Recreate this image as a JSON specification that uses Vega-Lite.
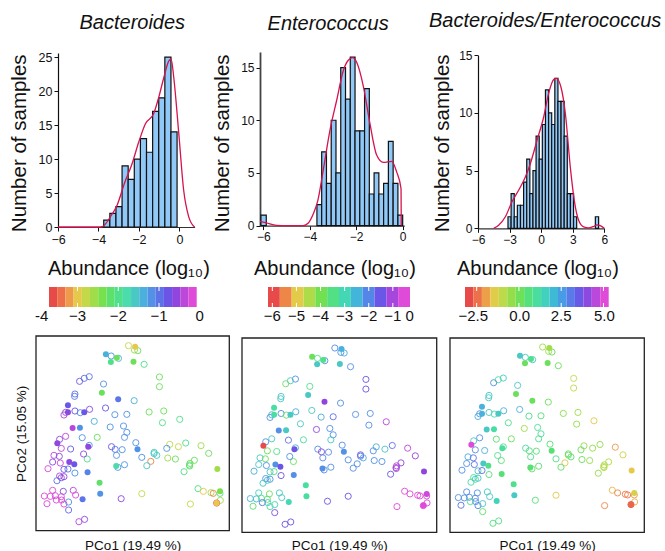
{"$schema":"https://vega.github.io/schema/vega-lite/v6.json","padding":{"left":0,"top":11,"right":0,"bottom":0},"background":"white","config":{"font":"Liberation Sans","view":{"stroke":null},"axis":{"grid":false,"labelFlush":false,"labelColor":"#111","titleColor":"#111","titleFontWeight":"normal","labelFont":"Liberation Sans","titleFont":"Liberation Sans"},"title":{"fontWeight":"normal","color":"#111"}},
"resolve":{"scale":{"color":"independent"}},
"datasets":{
"h1":[{"from":-3.74,"to":-3.438,"count":1},{"from":-3.438,"to":-3.136,"count":2},{"from":-3.136,"to":-2.834,"count":3},{"from":-2.834,"to":-2.532,"count":9},{"from":-2.532,"to":-2.23,"count":7},{"from":-2.23,"to":-1.928,"count":10},{"from":-1.928,"to":-1.626,"count":13},{"from":-1.626,"to":-1.324,"count":11},{"from":-1.324,"to":-1.022,"count":17},{"from":-1.022,"to":-0.72,"count":19},{"from":-0.72,"to":-0.418,"count":25},{"from":-0.418,"to":-0.116,"count":14}],
"c1":[{"x":-6,"y":0},{"x":-4,"y":0},{"x":-3.82,"y":0.05},{"x":-3.41,"y":1.5},{"x":-3.08,"y":3.2},{"x":-2.72,"y":6.4},{"x":-2.34,"y":9.3},{"x":-2.01,"y":12.5},{"x":-1.68,"y":15.2},{"x":-1.27,"y":16.7},{"x":-1.02,"y":19.1},{"x":-0.77,"y":22},{"x":-0.53,"y":24.4},{"x":-0.41,"y":24.7},{"x":-0.28,"y":22},{"x":-0.03,"y":13.7},{"x":0.21,"y":5.4},{"x":0.46,"y":1.5},{"x":0.75,"y":0}],
"h2":[{"from":-6.1,"to":-5.87,"count":1},{"from":-3.69,"to":-3.485,"count":2},{"from":-3.485,"to":-3.28,"count":7},{"from":-3.28,"to":-3.075,"count":4},{"from":-3.075,"to":-2.87,"count":10},{"from":-2.87,"to":-2.665,"count":5},{"from":-2.665,"to":-2.46,"count":15},{"from":-2.46,"to":-2.255,"count":12},{"from":-2.255,"to":-2.05,"count":16},{"from":-2.05,"to":-1.845,"count":9},{"from":-1.845,"to":-1.64,"count":9},{"from":-1.64,"to":-1.435,"count":13},{"from":-1.435,"to":-1.23,"count":3},{"from":-1.23,"to":-1.025,"count":5},{"from":-1.025,"to":-0.82,"count":3},{"from":-0.82,"to":-0.615,"count":4},{"from":-0.615,"to":-0.41,"count":8},{"from":-0.41,"to":-0.205,"count":4},{"from":-0.205,"to":0,"count":1}],
"c2":[{"x":-6.14,"y":0.4},{"x":-5.86,"y":0.25},{"x":-5.43,"y":0.02},{"x":-5,"y":0},{"x":-4.28,"y":0},{"x":-4.06,"y":0.25},{"x":-3.85,"y":1.1},{"x":-3.65,"y":2.4},{"x":-3.42,"y":5.25},{"x":-3.13,"y":9.05},{"x":-2.84,"y":11.9},{"x":-2.55,"y":14.75},{"x":-2.34,"y":15.7},{"x":-2.15,"y":15.95},{"x":-1.98,"y":15.5},{"x":-1.69,"y":13.2},{"x":-1.41,"y":9.7},{"x":-1.12,"y":6.7},{"x":-0.83,"y":6},{"x":-0.47,"y":6.1},{"x":-0.26,"y":5.1},{"x":-0.07,"y":3.5},{"x":-0.06,"y":0}],
"h3":[{"from":-3.15,"to":-2.853,"count":1},{"from":-2.853,"to":-2.557,"count":3},{"from":-2.557,"to":-2.26,"count":1},{"from":-2.26,"to":-1.964,"count":2},{"from":-1.964,"to":-1.667,"count":2},{"from":-1.667,"to":-1.37,"count":4},{"from":-1.37,"to":-1.074,"count":6},{"from":-1.074,"to":-0.777,"count":3},{"from":-0.777,"to":-0.481,"count":5},{"from":-0.481,"to":-0.184,"count":8},{"from":-0.184,"to":0.113,"count":6},{"from":0.113,"to":0.409,"count":9},{"from":0.409,"to":0.706,"count":12},{"from":0.706,"to":1.002,"count":10},{"from":1.002,"to":1.299,"count":9},{"from":1.299,"to":1.596,"count":13},{"from":1.596,"to":1.892,"count":11},{"from":1.892,"to":2.189,"count":11},{"from":2.189,"to":2.485,"count":8},{"from":2.485,"to":2.782,"count":3},{"from":2.782,"to":3.079,"count":3},{"from":3.079,"to":3.375,"count":1},{"from":5.15,"to":5.46,"count":1}],
"c3":[{"x":-4.51,"y":0},{"x":-4.04,"y":0.26},{"x":-3.4,"y":1},{"x":-2.77,"y":2.3},{"x":-2.14,"y":3.3},{"x":-1.5,"y":4.45},{"x":-1.03,"y":5.6},{"x":-0.4,"y":7.6},{"x":0.24,"y":9.65},{"x":0.71,"y":11.7},{"x":1.19,"y":12.9},{"x":1.44,"y":13},{"x":1.88,"y":12.25},{"x":2.3,"y":9.95},{"x":2.77,"y":5.3},{"x":3.15,"y":2.4},{"x":3.56,"y":0.7},{"x":4.04,"y":0.12},{"x":4.5,"y":0.03},{"x":5,"y":0.17},{"x":5.3,"y":0.3},{"x":5.62,"y":0.23},{"x":6,"y":0}],
"b1":[{"from":-3.7,"to":-3.499,"v":-3.6},{"from":-3.499,"to":-3.297,"v":-3.399},{"from":-3.297,"to":-3.096,"v":-3.197},{"from":-3.096,"to":-2.894,"v":-2.996},{"from":-2.894,"to":-2.693,"v":-2.794},{"from":-2.693,"to":-2.492,"v":-2.593},{"from":-2.492,"to":-2.29,"v":-2.392},{"from":-2.29,"to":-2.089,"v":-2.19},{"from":-2.089,"to":-1.887,"v":-1.989},{"from":-1.887,"to":-1.686,"v":-1.787},{"from":-1.686,"to":-1.485,"v":-1.586},{"from":-1.485,"to":-1.283,"v":-1.385},{"from":-1.283,"to":-1.082,"v":-1.183},{"from":-1.082,"to":-0.88,"v":-0.982},{"from":-0.88,"to":-0.679,"v":-0.78},{"from":-0.679,"to":-0.478,"v":-0.579},{"from":-0.478,"to":-0.276,"v":-0.378},{"from":-0.276,"to":-0.075,"v":-0.176}],
"b2":[{"from":-6.18,"to":-5.689,"v":-5.935},{"from":-5.689,"to":-5.198,"v":-5.444},{"from":-5.198,"to":-4.707,"v":-4.953},{"from":-4.707,"to":-4.216,"v":-4.462},{"from":-4.216,"to":-3.725,"v":-3.971},{"from":-3.725,"to":-3.234,"v":-3.48},{"from":-3.234,"to":-2.743,"v":-2.989},{"from":-2.743,"to":-2.252,"v":-2.498},{"from":-2.252,"to":-1.761,"v":-2.007},{"from":-1.761,"to":-1.27,"v":-1.516},{"from":-1.27,"to":-0.779,"v":-1.025},{"from":-0.779,"to":-0.288,"v":-0.534}],
"b3":[{"from":-3.19,"to":-2.69,"v":-2.94},{"from":-2.69,"to":-2.19,"v":-2.44},{"from":-2.19,"to":-1.69,"v":-1.94},{"from":-1.69,"to":-1.19,"v":-1.44},{"from":-1.19,"to":-0.69,"v":-0.94},{"from":-0.69,"to":-0.19,"v":-0.44},{"from":-0.19,"to":0.31,"v":0.06},{"from":0.31,"to":0.81,"v":0.56},{"from":0.81,"to":1.31,"v":1.06},{"from":1.31,"to":1.81,"v":1.56},{"from":1.81,"to":2.31,"v":2.06},{"from":2.31,"to":2.81,"v":2.56},{"from":2.81,"to":3.31,"v":3.06},{"from":3.31,"to":3.81,"v":3.56},{"from":3.81,"to":4.31,"v":4.06},{"from":4.31,"to":4.81,"v":4.56},{"from":4.81,"to":5.31,"v":5.06}],
"t1":[{"t":-3},{"t":-2},{"t":-1}],
"t2":[{"t":-6},{"t":-5},{"t":-4},{"t":-3},{"t":-2},{"t":-1}],
"t3":[{"t":-2.5},{"t":0},{"t":2.5},{"t":5}],
"pts":[
{"p1":385,"p2":47,"f":0,"a":-2.8,"b":-2.12,"c":-0.59},{"p1":405,"p2":50,"f":1,"a":-3,"b":-2.44,"c":-0.59},{"p1":403,"p2":60,"f":0,"a":-2.6,"b":-2.12,"c":-0.59},{"p1":413,"p2":62,"f":0,"a":-2.3,"b":-2.44,"c":0.12},{"p1":317,"p2":73,"f":1,"a":-1.4,"b":-3.87,"c":1.77},{"p1":333,"p2":78,"f":0,"a":-1.2,"b":-3.4,"c":1.77},{"p1":350,"p2":83,"f":1,"a":-2.3,"b":-3.4,"c":0.83},{"p1":355,"p2":85,"f":0,"a":-1.4,"b":-2.12,"c":1.77},{"p1":332,"p2":96,"f":1,"a":-2,"b":-2.76,"c":0.12},{"p1":400,"p2":95,"f":1,"a":-2.3,"b":-2.76,"c":0.12},{"p1":432,"p2":103,"f":0,"a":-2,"b":-2.12,"c":0.12},{"p1":478,"p2":141,"f":0,"a":-2.3,"b":-1.49,"c":-1.06},{"p1":478,"p2":170,"f":0,"a":-2.3,"b":-1.49,"c":-1.06},{"p1":267,"p2":140,"f":0,"a":-1,"b":-2.12,"c":1.77},{"p1":252,"p2":145,"f":0,"a":-1,"b":-2.76,"c":1.3},{"p1":238,"p2":154,"f":0,"a":-0.8,"b":-3.87,"c":2.71},{"p1":310,"p2":162,"f":0,"a":-1.2,"b":-3.4,"c":1.77},{"p1":305,"p2":188,"f":1,"a":-2.3,"b":-2.76,"c":0.12},{"p1":224,"p2":192,"f":0,"a":-1,"b":-2.76,"c":1.77},{"p1":223,"p2":199,"f":0,"a":-1,"b":-2.76,"c":1.77},{"p1":354,"p2":208,"f":1,"a":-1,"b":-1.17,"c":0.12},{"p1":402,"p2":212,"f":0,"a":-1.4,"b":-2.12,"c":0.12},{"p1":203,"p2":226,"f":1,"a":-0.8,"b":-3.2,"c":2.24},{"p1":203,"p2":247,"f":1,"a":-0.6,"b":-3.2,"c":2.24},{"p1":196,"p2":247,"f":0,"a":-0.6,"b":-2.44,"c":2.71},{"p1":191,"p2":255,"f":0,"a":-0.4,"b":-2.12,"c":2.24},{"p1":224,"p2":243,"f":0,"a":-0.8,"b":-2.12,"c":1.77},{"p1":240,"p2":248,"f":0,"a":-1.2,"b":-3.87,"c":1.3},{"p1":252,"p2":247,"f":1,"a":-0.8,"b":-2.76,"c":1.77},{"p1":268,"p2":238,"f":0,"a":-0.6,"b":-2.44,"c":2.24},{"p1":316,"p2":234,"f":0,"a":-0.8,"b":-2.76,"c":2.24},{"p1":344,"p2":254,"f":0,"a":-1.2,"b":-2.44,"c":0.83},{"p1":380,"p2":253,"f":0,"a":-1.2,"b":-1.8,"c":0.5},{"p1":447,"p2":246,"f":0,"a":-2.3,"b":-2.12,"c":-0.3},{"p1":491,"p2":243,"f":0,"a":-2.3,"b":-2.12,"c":-0.59},{"p1":539,"p2":268,"f":0,"a":-2,"b":-0.85,"c":-1.53},{"p1":487,"p2":278,"f":0,"a":-2,"b":-2.12,"c":-0.4},{"p1":282,"p2":274,"f":0,"a":-1.4,"b":-2.76,"c":0.83},{"p1":330,"p2":291,"f":0,"a":-1.2,"b":-1.17,"c":-0.59},{"p1":370,"p2":288,"f":0,"a":-1.2,"b":-2.12,"c":1},{"p1":217,"p2":294,"f":1,"a":-0.4,"b":-2.12,"c":1.77},{"p1":239,"p2":293,"f":1,"a":-1.2,"b":-2.76,"c":1.2},{"p1":380,"p2":307,"f":0,"a":-1.2,"b":-2.12,"c":1},{"p1":373,"p2":322,"f":0,"a":-1.2,"b":-2.76,"c":0.83},{"p1":291,"p2":322,"f":0,"a":-2.3,"b":-3.2,"c":0.12},{"p1":246,"p2":323,"f":0,"a":-1.2,"b":-1.8,"c":0.5},{"p1":196,"p2":319,"f":0,"a":-0.4,"b":-2.76,"c":2.71},{"p1":178,"p2":328,"f":0,"a":-0.6,"b":-2.12,"c":1.77},{"p1":171,"p2":340,"f":1,"a":-0.6,"b":-5.94,"c":5.06},{"p1":183,"p2":355,"f":0,"a":-0.4,"b":-3.87,"c":2.71},{"p1":211,"p2":357,"f":0,"a":-0.8,"b":-3.4,"c":2.24},{"p1":267,"p2":346,"f":0,"a":-1.2,"b":-2.44,"c":1},{"p1":264,"p2":350,"f":1,"a":-0.6,"b":-1.49,"c":1},{"p1":334,"p2":350,"f":0,"a":-0.8,"b":-2.12,"c":1.2},{"p1":345,"p2":358,"f":0,"a":-1,"b":-1.17,"c":0.5},{"p1":366,"p2":359,"f":0,"a":-1.2,"b":-2.12,"c":0.5},{"p1":349,"p2":376,"f":0,"a":-1.2,"b":-2.12,"c":0.83},{"p1":407,"p2":338,"f":0,"a":-1.2,"b":-2.12,"c":0.5},{"p1":412,"p2":358,"f":1,"a":-1.2,"b":-2.12,"c":0.5},{"p1":509,"p2":343,"f":0,"a":-2.8,"b":-2.44,"c":-0.4},{"p1":500,"p2":355,"f":0,"a":-1.2,"b":-2.12,"c":0.12},{"p1":535,"p2":350,"f":0,"a":-2.8,"b":-2.76,"c":-0.4},{"p1":557,"p2":339,"f":0,"a":-2,"b":-1.8,"c":-0.4},{"p1":603,"p2":347,"f":0,"a":-2.6,"b":-0.85,"c":-2},{"p1":626,"p2":370,"f":0,"a":-2.3,"b":-1.17,"c":-1.3},{"p1":462,"p2":367,"f":0,"a":-1.6,"b":-1.49,"c":0.12},{"p1":462,"p2":371,"f":0,"a":-1.6,"b":-1.8,"c":0.12},{"p1":470,"p2":376,"f":0,"a":-1.6,"b":-2.44,"c":0.5},{"p1":425,"p2":382,"f":0,"a":-1.2,"b":-2.12,"c":0.83},{"p1":452,"p2":394,"f":0,"a":-3.3,"b":-2.12,"c":-1.53},{"p1":503,"p2":384,"f":0,"a":-2.6,"b":-2.12,"c":0.12},{"p1":526,"p2":387,"f":0,"a":-2.3,"b":-2.12,"c":-0.4},{"p1":440,"p2":407,"f":0,"a":-1.6,"b":-2.12,"c":0.3},{"p1":583,"p2":391,"f":0,"a":-2.3,"b":-1.17,"c":-0.8},{"p1":570,"p2":400,"f":0,"a":-2.3,"b":-0.85,"c":-0.8},{"p1":568,"p2":405,"f":0,"a":-2,"b":-0.85,"c":-0.8},{"p1":569,"p2":408,"f":0,"a":-2.3,"b":-1.17,"c":-0.8},{"p1":552,"p2":425,"f":0,"a":-2,"b":-1.49,"c":-0.4},{"p1":652,"p2":417,"f":1,"a":-2.6,"b":-1.17,"c":-1.53},{"p1":261,"p2":387,"f":0,"a":-2,"b":-3.87,"c":0.5},{"p1":250,"p2":372,"f":0,"a":-0.6,"b":-2.12,"c":0.83},{"p1":161,"p2":376,"f":0,"a":-0.4,"b":-2.76,"c":2.24},{"p1":177,"p2":379,"f":0,"a":-0.6,"b":-3.87,"c":3.18},{"p1":157,"p2":396,"f":0,"a":-0.6,"b":-2.76,"c":2.71},{"p1":180,"p2":399,"f":0,"a":-0.3,"b":-2.12,"c":3.18},{"p1":207,"p2":396,"f":1,"a":-0.6,"b":-2.12,"c":1.77},{"p1":222,"p2":403,"f":1,"a":-0.8,"b":-1.49,"c":0.83},{"p1":143,"p2":416,"f":0,"a":-0.2,"b":-2.44,"c":2.71},{"p1":191,"p2":418,"f":0,"a":-0.8,"b":-2.76,"c":1.77},{"p1":203,"p2":417,"f":0,"a":-1,"b":-3.6,"c":3.18},{"p1":224,"p2":429,"f":0,"a":-1.2,"b":-1.49,"c":0.5},{"p1":348,"p2":408,"f":1,"a":-1.8,"b":-2.12,"c":0.5},{"p1":353,"p2":412,"f":0,"a":-1.2,"b":-2.12,"c":0.12},{"p1":373,"p2":404,"f":0,"a":-1.2,"b":-2.12,"c":0.5},{"p1":262,"p2":427,"f":1,"a":-1.1,"b":-2.12,"c":0.5},{"p1":178,"p2":438,"f":0,"a":-0.4,"b":-2.12,"c":0.83},{"p1":191,"p2":440,"f":0,"a":-0.6,"b":-2.12,"c":1.77},{"p1":183,"p2":443,"f":0,"a":-0.6,"b":-2.76,"c":1.5},{"p1":170,"p2":452,"f":0,"a":-1,"b":-2.76,"c":1.2},{"p1":298,"p2":458,"f":1,"a":-2.2,"b":-3.2,"c":0.83},{"p1":300,"p2":491,"f":1,"a":-1.2,"b":-3.2,"c":1.77},{"p1":157,"p2":481,"f":0,"a":-0.2,"b":-3,"c":2.71},{"p1":189,"p2":484,"f":0,"a":-0.7,"b":-3.87,"c":2.71},{"p1":219,"p2":481,"f":0,"a":-0.4,"b":-2.76,"c":1.77},{"p1":226,"p2":495,"f":0,"a":-0.2,"b":-2.76,"c":1.77},{"p1":132,"p2":498,"f":0,"a":-0.2,"b":-2.44,"c":2.71},{"p1":150,"p2":499,"f":0,"a":-0.2,"b":-2.6,"c":2.71},{"p1":165,"p2":497,"f":0,"a":-0.2,"b":-3.4,"c":2.71},{"p1":183,"p2":500,"f":0,"a":-0.2,"b":-3.7,"c":2.71},{"p1":168,"p2":510,"f":0,"a":-0.2,"b":-1.8,"c":0.83},{"p1":184,"p2":510,"f":0,"a":-0.2,"b":-2.76,"c":2.71},{"p1":140,"p2":521,"f":0,"a":-0.2,"b":-3.7,"c":3.18},{"p1":191,"p2":522,"f":0,"a":-0.2,"b":-3.3,"c":2.9},{"p1":205,"p2":516,"f":0,"a":-1.2,"b":-3,"c":1.77},{"p1":247,"p2":508,"f":1,"a":-1,"b":-3,"c":1.5},{"p1":363,"p2":506,"f":0,"a":-0.6,"b":-1.49,"c":0.5},{"p1":425,"p2":491,"f":0,"a":-2.8,"b":-1.49,"c":-1.53},{"p1":205,"p2":540,"f":0,"a":-0.9,"b":-1.3,"c":0.3},{"p1":236,"p2":575,"f":0,"a":-0.4,"b":-1.49,"c":0.5},{"p1":253,"p2":568,"f":0,"a":-0.6,"b":-1.49,"c":0.83},{"p1":594,"p2":476,"f":0,"a":-2,"b":-0.53,"c":-1.7},{"p1":610,"p2":484,"f":0,"a":-3,"b":-0.53,"c":-2.2},{"p1":633,"p2":488,"f":0,"a":-2.6,"b":-0.53,"c":-2.3},{"p1":640,"p2":490,"f":0,"a":-3.3,"b":-0.53,"c":-2.4},{"p1":660,"p2":484,"f":1,"a":-2.4,"b":-0.7,"c":-1.3},{"p1":660,"p2":490,"f":0,"a":-2,"b":-0.53,"c":-2},{"p1":661,"p2":511,"f":0,"a":-2.6,"b":-0.53,"c":-1.8},{"p1":571,"p2":522,"f":0,"a":-2.8,"b":-0.53,"c":-2.2},{"p1":650,"p2":519,"f":1,"a":-3,"b":-0.53,"c":-2.6},{"p1":650,"p2":519,"f":0,"a":-3.6,"b":-0.53,"c":-2.94}
]},
"vconcat":[
{"resolve":{"scale":{"color":"independent"}},"hconcat":[
{"width":58,"height":196.8,"data":{"values":[{"s":0}]},"mark":{"type":"point","opacity":0}},
{"width":136.6,"height":175,"title":{"text":"Bacteroides","fontStyle":"italic","fontSize":20,"offset":18,"dx":6,"frame":"group"},"layer":[
{"data":{"name":"h1"},"mark":{"type":"rect","fill":"#90C8F8","stroke":"#111","strokeWidth":1.2},"encoding":{"x":{"field":"from","type":"quantitative","scale":{"domain":[-6,0.75],"nice":false,"zero":false},"axis":{"title":null,"values":[-6,-4,-2,0],"format":"d","labelFontSize":12.5,"tickSize":4,"tickColor":"#111","domainColor":"#333","domainWidth":1.2,"labelPadding":2}},"x2":{"field":"to"},"y":{"field":"count","type":"quantitative","scale":{"domain":[0,25.6],"range":[175,1],"nice":false},"axis":{"title":"Number of samples","titleFontSize":20.5,"titlePadding":9,"titleY":90.8,"values":[0,5,10,15,20,25],"format":"d","labelFontSize":12.5,"tickSize":4,"tickColor":"#111","domainColor":"#111","domainWidth":1.2,"labelPadding":2}},"y2":{"datum":0}}},
{"data":{"name":"c1"},"mark":{"type":"line","color":"#D6124F","strokeWidth":1.3,"interpolate":"monotone"},"encoding":{"x":{"field":"x","type":"quantitative","axis":{"title":null,"values":[-6,-4,-2,0],"format":"d","labelFontSize":12.5,"tickSize":4,"tickColor":"#111","domainColor":"#333","domainWidth":1.2,"labelPadding":2}},"y":{"field":"y","type":"quantitative","axis":{"title":"Number of samples","titleFontSize":20.5,"titlePadding":9,"titleY":90.8,"values":[0,5,10,15,20,25],"format":"d","labelFontSize":12.5,"tickSize":4,"tickColor":"#111","domainColor":"#111","domainWidth":1.2,"labelPadding":2}}}}
]},
{"width":65,"height":1,"data":{"values":[{"s":0}]},"mark":{"type":"point","opacity":0}},
{"width":144.3,"height":173.6,"title":{"text":"Enterococcus","fontStyle":"italic","fontSize":20,"offset":18,"dx":-4,"frame":"group"},"layer":[
{"data":{"name":"h2"},"mark":{"type":"rect","fill":"#90C8F8","stroke":"#111","strokeWidth":1.2},"encoding":{"x":{"field":"from","type":"quantitative","scale":{"domain":[-6.14,0.07],"nice":false,"zero":false},"axis":{"title":null,"values":[-6,-4,-2,0],"format":"d","labelFontSize":12,"tickSize":4,"tickColor":"#111","domainColor":"#333","domainWidth":1.2,"labelPadding":2}},"x2":{"field":"to"},"y":{"field":"count","type":"quantitative","scale":{"domain":[0,16.48],"range":[173.6,0],"nice":false},"axis":{"title":"Number of samples","titleFontSize":20.5,"titlePadding":8,"titleY":90.8,"values":[0,5,10,15],"format":"d","labelFontSize":12,"tickSize":4,"tickColor":"#111","domainColor":"#444","domainWidth":1.8,"labelPadding":2}},"y2":{"datum":0}}},
{"data":{"name":"c2"},"mark":{"type":"line","color":"#D6124F","strokeWidth":1.3,"interpolate":"monotone"},"encoding":{"x":{"field":"x","type":"quantitative","axis":{"title":null,"values":[-6,-4,-2,0],"format":"d","labelFontSize":12,"tickSize":4,"tickColor":"#111","domainColor":"#333","domainWidth":1.2,"labelPadding":2}},"y":{"field":"y","type":"quantitative","axis":{"title":"Number of samples","titleFontSize":20.5,"titlePadding":8,"titleY":90.8,"values":[0,5,10,15],"format":"d","labelFontSize":12,"tickSize":4,"tickColor":"#111","domainColor":"#444","domainWidth":1.8,"labelPadding":2}}}}
]},
{"width":73,"height":1,"data":{"values":[{"s":0}]},"mark":{"type":"point","opacity":0}},
{"width":126.3,"height":176.3,"title":{"text":"Bacteroides/Enterococcus","fontStyle":"italic","fontSize":20,"offset":18,"dx":4,"frame":"group"},"layer":[
{"data":{"name":"h3"},"mark":{"type":"rect","fill":"#90C8F8","stroke":"#111","strokeWidth":1.2},"encoding":{"x":{"field":"from","type":"quantitative","scale":{"domain":[-6,6],"nice":false,"zero":false},"axis":{"title":null,"values":[-6,-3,0,3,6],"format":"d","labelFontSize":12,"tickSize":4,"tickColor":"#111","domainColor":"#333","domainWidth":1.2,"labelPadding":2}},"x2":{"field":"to"},"y":{"field":"count","type":"quantitative","scale":{"domain":[0,15],"range":[176.3,3.3],"nice":false},"axis":{"title":"Number of samples","titleFontSize":20.5,"titlePadding":6,"titleY":90.8,"values":[0,5,10,15],"format":"d","labelFontSize":12,"tickSize":4,"tickColor":"#111","domainColor":"#111","domainWidth":1.2,"labelPadding":2}},"y2":{"datum":0}}},
{"data":{"name":"c3"},"mark":{"type":"line","color":"#D6124F","strokeWidth":1.3,"interpolate":"monotone"},"encoding":{"x":{"field":"x","type":"quantitative","axis":{"title":null,"values":[-6,-3,0,3,6],"format":"d","labelFontSize":12,"tickSize":4,"tickColor":"#111","domainColor":"#333","domainWidth":1.2,"labelPadding":2}},"y":{"field":"y","type":"quantitative","axis":{"title":"Number of samples","titleFontSize":20.5,"titlePadding":6,"titleY":90.8,"values":[0,5,10,15],"format":"d","labelFontSize":12,"tickSize":4,"tickColor":"#111","domainColor":"#111","domainWidth":1.2,"labelPadding":2}}}}
]}
],"spacing":0,"bounds":"flush"},
{"resolve":{"scale":{"color":"independent"}},"hconcat":[
{"width":49,"height":1,"data":{"values":[{"s":0}]},"mark":{"type":"point","opacity":0}},
{"width":147.7,"height":20,"title":{"text":"Abundance (log₁₀)","fontSize":20,"offset":8,"anchor":"start","frame":"group","dx":-1},"layer":[
{"data":{"name":"b1"},"mark":{"type":"rect"},"encoding":{"x":{"field":"from","type":"quantitative","axis":null,"scale":{"domain":[-3.7,-0.075],"nice":false,"zero":false}},"x2":{"field":"to"},"y":{"datum":0,"type":"quantitative","axis":null,"scale":{"domain":[0,1],"nice":false}},"y2":{"datum":1},"color":{"field":"v","type":"quantitative","legend":null,"scale":{"domain":[-3.6,-3.399,-3.197,-2.996,-2.794,-2.593,-2.392,-2.19,-1.989,-1.787,-1.586,-1.385,-1.183,-0.982,-0.78,-0.579,-0.378,-0.176],"range":["#E84A4A","#EC6E4A","#EE9A4A","#E6C94A","#C4D94A","#A0DD4A","#78E04C","#5EE06C","#50E08C","#4ADCAC","#4AC8C4","#4CB0DC","#5490E6","#5E72E8","#6C54E6","#9046DE","#BC48DA","#E04AD8"]}}}},
{"data":{"name":"t1"},"mark":{"type":"rule","color":"white","strokeWidth":1},"encoding":{"x":{"field":"t","type":"quantitative","axis":null},"y":{"datum":0,"type":"quantitative","axis":null},"y2":{"datum":0.2}}},
{"data":{"name":"t1"},"mark":{"type":"rule","color":"white","strokeWidth":1},"encoding":{"x":{"field":"t","type":"quantitative","axis":null},"y":{"datum":0.8,"type":"quantitative","axis":null},"y2":{"datum":1}}},
{"data":{"values":[{"t":-3.88,"l":"-4"},{"t":-3,"l":"−3"},{"t":-2,"l":"−2"},{"t":-1,"l":"−1"},{"t":0,"l":"0"}]},"mark":{"type":"text","fontSize":15,"dy":9,"color":"#111"},"encoding":{"x":{"field":"t","type":"quantitative","axis":null},"y":{"datum":0,"type":"quantitative","axis":null},"text":{"field":"l"}}}
]},
{"width":71,"height":1,"data":{"values":[{"s":0}]},"mark":{"type":"point","opacity":0}},
{"width":142,"height":20,"title":{"text":"Abundance (log₁₀)","fontSize":20,"offset":8,"anchor":"start","frame":"group","dx":-14},"layer":[
{"data":{"name":"b2"},"mark":{"type":"rect"},"encoding":{"x":{"field":"from","type":"quantitative","axis":null,"scale":{"domain":[-6.18,-0.288],"nice":false,"zero":false}},"x2":{"field":"to"},"y":{"datum":0,"type":"quantitative","axis":null,"scale":{"domain":[0,1],"nice":false}},"y2":{"datum":1},"color":{"field":"v","type":"quantitative","legend":null,"scale":{"domain":[-5.935,-5.617,-5.3,-4.982,-4.664,-4.347,-4.029,-3.711,-3.394,-3.076,-2.758,-2.441,-2.123,-1.805,-1.487,-1.17,-0.852,-0.534],"range":["#E84A4A","#EC6E4A","#EE9A4A","#E6C94A","#C4D94A","#A0DD4A","#78E04C","#5EE06C","#50E08C","#4ADCAC","#4AC8C4","#4CB0DC","#5490E6","#5E72E8","#6C54E6","#9046DE","#BC48DA","#E04AD8"]}}}},
{"data":{"name":"t2"},"mark":{"type":"rule","color":"white","strokeWidth":1},"encoding":{"x":{"field":"t","type":"quantitative","axis":null},"y":{"datum":0,"type":"quantitative","axis":null},"y2":{"datum":0.2}}},
{"data":{"name":"t2"},"mark":{"type":"rule","color":"white","strokeWidth":1},"encoding":{"x":{"field":"t","type":"quantitative","axis":null},"y":{"datum":0.8,"type":"quantitative","axis":null},"y2":{"datum":1}}},
{"data":{"values":[{"t":-6,"l":"−6"},{"t":-5,"l":"−5"},{"t":-4,"l":"−4"},{"t":-3,"l":"−3"},{"t":-2,"l":"−2"},{"t":-1,"l":"−1"},{"t":-0.3,"l":"0"}]},"mark":{"type":"text","fontSize":15,"dy":9,"color":"#111"},"encoding":{"x":{"field":"t","type":"quantitative","axis":null},"y":{"datum":0,"type":"quantitative","axis":null},"text":{"field":"l"}}}
]},
{"width":55,"height":1,"data":{"values":[{"s":0}]},"mark":{"type":"point","opacity":0}},
{"width":143.7,"height":20,"title":{"text":"Abundance (log₁₀)","fontSize":20,"offset":8,"anchor":"start","frame":"group","dx":-8},"layer":[
{"data":{"name":"b3"},"mark":{"type":"rect"},"encoding":{"x":{"field":"from","type":"quantitative","axis":null,"scale":{"domain":[-3.19,5.31],"nice":false,"zero":false}},"x2":{"field":"to"},"y":{"datum":0,"type":"quantitative","axis":null,"scale":{"domain":[0,1],"nice":false}},"y2":{"datum":1},"color":{"field":"v","type":"quantitative","legend":null,"scale":{"domain":[-2.94,-2.469,-1.999,-1.528,-1.058,-0.587,-0.116,0.354,0.825,1.295,1.766,2.236,2.707,3.178,3.648,4.119,4.589,5.06],"range":["#E84A4A","#EC6E4A","#EE9A4A","#E6C94A","#C4D94A","#A0DD4A","#78E04C","#5EE06C","#50E08C","#4ADCAC","#4AC8C4","#4CB0DC","#5490E6","#5E72E8","#6C54E6","#9046DE","#BC48DA","#E04AD8"]}}}},
{"data":{"name":"t3"},"mark":{"type":"rule","color":"white","strokeWidth":1},"encoding":{"x":{"field":"t","type":"quantitative","axis":null},"y":{"datum":0,"type":"quantitative","axis":null},"y2":{"datum":0.2}}},
{"data":{"name":"t3"},"mark":{"type":"rule","color":"white","strokeWidth":1},"encoding":{"x":{"field":"t","type":"quantitative","axis":null},"y":{"datum":0.8,"type":"quantitative","axis":null},"y2":{"datum":1}}},
{"data":{"values":[{"t":-2.7,"l":"−2.5"},{"t":0.05,"l":"0.0"},{"t":2.5,"l":"2.5"},{"t":5.05,"l":"5.0"}]},"mark":{"type":"text","fontSize":15,"dy":9,"color":"#111"},"encoding":{"x":{"field":"t","type":"quantitative","axis":null},"y":{"datum":0,"type":"quantitative","axis":null},"text":{"field":"l"}}}
]}
],"spacing":0,"bounds":"flush"},
{"resolve":{"scale":{"color":"independent"}},"hconcat":[
{"width":36,"height":1,"data":{"values":[{"s":0}]},"mark":{"type":"point","opacity":0}},
{"width":193.3,"height":196.3,"layer":[
{"data":{"values":[{"l":107,"r":688,"t":18,"b":602}]},"mark":{"type":"rect","fillOpacity":0,"stroke":"#222","strokeWidth":1.3},"encoding":{"x":{"field":"l","type":"quantitative","scale":{"domain":[107,688],"nice":false,"zero":false},"axis":{"title":"PCo1 (19.49 %)","titleFontSize":13.5,"labels":false,"ticks":false,"domain":false,"titlePadding":6}},"x2":{"field":"r"},"y":{"field":"t","type":"quantitative","scale":{"domain":[602,18],"range":[194.7,0],"nice":false,"zero":false},"axis":{"title":"PCo2 (15.05 %)","titleFontSize":13.5,"labels":false,"ticks":false,"domain":false,"titlePadding":8}},"y2":{"field":"b"}}},
{"data":{"name":"pts"},"transform":[{"filter":"datum.f==0"}],"mark":{"type":"point","filled":false,"size":38,"strokeWidth":1,"opacity":0.9},"encoding":{"x":{"field":"p1","type":"quantitative","axis":{"title":"PCo1 (19.49 %)","titleFontSize":13.5,"labels":false,"ticks":false,"domain":false,"titlePadding":6}},"y":{"field":"p2","type":"quantitative","axis":{"title":"PCo2 (15.05 %)","titleFontSize":13.5,"labels":false,"ticks":false,"domain":false,"titlePadding":8}},"color":{"field":"a","type":"quantitative","legend":null,"scale":{"domain":[-3.6,-3.399,-3.197,-2.996,-2.794,-2.593,-2.392,-2.19,-1.989,-1.787,-1.586,-1.385,-1.183,-0.982,-0.78,-0.579,-0.378,-0.176],"range":["#E84A4A","#EC6E4A","#EE9A4A","#E6C94A","#C4D94A","#A0DD4A","#78E04C","#5EE06C","#50E08C","#4ADCAC","#4AC8C4","#4CB0DC","#5490E6","#5E72E8","#6C54E6","#9046DE","#BC48DA","#E04AD8"]}}}},
{"data":{"name":"pts"},"transform":[{"filter":"datum.f==1"}],"mark":{"type":"circle","size":36,"opacity":1},"encoding":{"x":{"field":"p1","type":"quantitative","axis":{"title":"PCo1 (19.49 %)","titleFontSize":13.5,"labels":false,"ticks":false,"domain":false,"titlePadding":6}},"y":{"field":"p2","type":"quantitative","axis":{"title":"PCo2 (15.05 %)","titleFontSize":13.5,"labels":false,"ticks":false,"domain":false,"titlePadding":8}},"color":{"field":"a","type":"quantitative","legend":null}}}
]},
{"width":12,"height":1,"data":{"values":[{"s":0}]},"mark":{"type":"point","opacity":0}},
{"width":194.7,"height":196.3,"layer":[
{"data":{"values":[{"l":107,"r":690,"t":17,"b":599}]},"mark":{"type":"rect","fillOpacity":0,"stroke":"#222","strokeWidth":1.3},"encoding":{"x":{"field":"l","type":"quantitative","scale":{"domain":[107,690],"nice":false,"zero":false},"axis":{"title":"PCo1 (19.49 %)","titleFontSize":13.5,"labels":false,"ticks":false,"domain":false,"titlePadding":6}},"x2":{"field":"r"},"y":{"field":"t","type":"quantitative","scale":{"domain":[599,17],"range":[196.3,2],"nice":false,"zero":false},"axis":null},"y2":{"field":"b"}}},
{"data":{"name":"pts"},"transform":[{"filter":"datum.f==0"}],"mark":{"type":"point","filled":false,"size":38,"strokeWidth":1,"opacity":0.9},"encoding":{"x":{"field":"p1","type":"quantitative","axis":{"title":"PCo1 (19.49 %)","titleFontSize":13.5,"labels":false,"ticks":false,"domain":false,"titlePadding":6}},"y":{"field":"p2","type":"quantitative","axis":null},"color":{"field":"b","type":"quantitative","legend":null,"scale":{"domain":[-5.935,-5.617,-5.3,-4.982,-4.664,-4.347,-4.029,-3.711,-3.394,-3.076,-2.758,-2.441,-2.123,-1.805,-1.487,-1.17,-0.852,-0.534],"range":["#E84A4A","#EC6E4A","#EE9A4A","#E6C94A","#C4D94A","#A0DD4A","#78E04C","#5EE06C","#50E08C","#4ADCAC","#4AC8C4","#4CB0DC","#5490E6","#5E72E8","#6C54E6","#9046DE","#BC48DA","#E04AD8"]}}}},
{"data":{"name":"pts"},"transform":[{"filter":"datum.f==1"}],"mark":{"type":"circle","size":36,"opacity":1},"encoding":{"x":{"field":"p1","type":"quantitative","axis":{"title":"PCo1 (19.49 %)","titleFontSize":13.5,"labels":false,"ticks":false,"domain":false,"titlePadding":6}},"y":{"field":"p2","type":"quantitative","axis":null},"color":{"field":"b","type":"quantitative","legend":null}}}
]},
{"width":13,"height":1,"data":{"values":[{"s":0}]},"mark":{"type":"point","opacity":0}},
{"width":194.3,"height":196.3,"layer":[
{"data":{"values":[{"l":107,"r":690,"t":20,"b":602}]},"mark":{"type":"rect","fillOpacity":0,"stroke":"#222","strokeWidth":1.3},"encoding":{"x":{"field":"l","type":"quantitative","scale":{"domain":[107,690],"nice":false,"zero":false},"axis":{"title":"PCo1 (19.49 %)","titleFontSize":13.5,"labels":false,"ticks":false,"domain":false,"titlePadding":6}},"x2":{"field":"r"},"y":{"field":"t","type":"quantitative","scale":{"domain":[602,20],"range":[196.3,2],"nice":false,"zero":false},"axis":null},"y2":{"field":"b"}}},
{"data":{"name":"pts"},"transform":[{"filter":"datum.f==0"}],"mark":{"type":"point","filled":false,"size":38,"strokeWidth":1,"opacity":0.9},"encoding":{"x":{"field":"p1","type":"quantitative","axis":{"title":"PCo1 (19.49 %)","titleFontSize":13.5,"labels":false,"ticks":false,"domain":false,"titlePadding":6}},"y":{"field":"p2","type":"quantitative","axis":null},"color":{"field":"c","type":"quantitative","legend":null,"scale":{"domain":[-2.94,-2.469,-1.999,-1.528,-1.058,-0.587,-0.116,0.354,0.825,1.295,1.766,2.236,2.707,3.178,3.648,4.119,4.589,5.06],"range":["#E84A4A","#EC6E4A","#EE9A4A","#E6C94A","#C4D94A","#A0DD4A","#78E04C","#5EE06C","#50E08C","#4ADCAC","#4AC8C4","#4CB0DC","#5490E6","#5E72E8","#6C54E6","#9046DE","#BC48DA","#E04AD8"]}}}},
{"data":{"name":"pts"},"transform":[{"filter":"datum.f==1"}],"mark":{"type":"circle","size":36,"opacity":1},"encoding":{"x":{"field":"p1","type":"quantitative","axis":{"title":"PCo1 (19.49 %)","titleFontSize":13.5,"labels":false,"ticks":false,"domain":false,"titlePadding":6}},"y":{"field":"p2","type":"quantitative","axis":null},"color":{"field":"c","type":"quantitative","legend":null}}}
]}
],"spacing":0,"bounds":"flush"}
],"spacing":9}
